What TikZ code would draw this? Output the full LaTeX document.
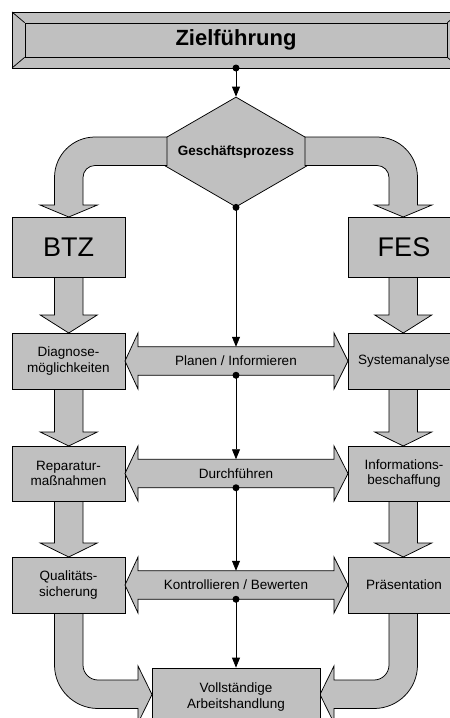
\documentclass[tikz,border=0pt]{standalone}
\usepackage{fontspec}
\setmainfont{Liberation Sans}
\usetikzlibrary{arrows.meta,shapes.geometric}
\definecolor{fillgray}{HTML}{C0C0C0}
\begin{document}
\begin{tikzpicture}[x=1pt,y=-1pt,
  lw/.style={line width=0.75pt},
  blk/.style={draw=black, fill=fillgray, line width=0.75pt, line join=miter},
  box/.style={blk, inner sep=0pt, align=center, font=\fontsize{13.5}{15.7}\selectfont},
  conn/.style={line width=0.75pt, -{Triangle[length=10pt,width=8pt]}},
  dotn/.style={circle, fill=black, inner sep=0pt, minimum size=7pt},
  lbl/.style={inner sep=0pt, align=center, font=\fontsize{13.5}{15.7}\selectfont}
]
\useasboundingbox (0,0) rectangle (450,718);
\clip (0,0) rectangle (450,718);

% ---- title (bevelled) ----
\draw[blk] (12,12) rectangle (460,68);
\node[box, minimum width=422pt, minimum height=34pt, font=\fontsize{22}{26}\selectfont\bfseries] (title) at (236,40) {Zielführung};
\draw[lw] (12,12) -- (title.north west) (460,12) -- (title.north east)
          (12,68) -- (title.south west) (460,68) -- (title.south east);
\coordinate (tdot) at (236,68);

% ---- decision ----
\node[blk, diamond, aspect=1.7, minimum width=190pt, minimum height=110pt, inner sep=0pt,
      font=\fontsize{13.5}{15}\selectfont\bfseries] (gp) at (236,152) {Geschäftsprozess};

% ---- top curved block arrows ----
\draw[blk] (167,137) -- (95,137) arc[start angle=90, end angle=180, radius=40.5pt]
  -- (54.5,205) -- (40,205) -- (68.75,217) -- (97.5,205) -- (83,205) -- (83,177.5)
  arc[start angle=180, end angle=90, radius=12pt] -- (167,165.5) -- cycle;
\draw[blk] (305,137) -- (377,137) arc[start angle=90, end angle=0, radius=40.5pt]
  -- (417.5,205) -- (432,205) -- (403.25,217) -- (374.5,205) -- (389,205) -- (389,177.5)
  arc[start angle=0, end angle=90, radius=12pt] -- (305,165.5) -- cycle;

% ---- vertical block arrows ----
\foreach \cx in {68.75,403.25}{
  \foreach \a/\b/\c in {277/315/333, 389/432/446, 501/543/557}{
    \draw[blk] (\cx-14.25,\a) -- (\cx-14.25,\b) -- (\cx-28.5,\b) -- (\cx,\c)
      -- (\cx+28.5,\b) -- (\cx+14.25,\b) -- (\cx+14.25,\a) -- cycle;
  }
}

% ---- bottom curved block arrows ----
\draw[blk] (54.5,613) -- (54.5,665) arc[start angle=180, end angle=270, radius=43.5pt]
  -- (138,708.5) -- (138,723) -- (152,694.5) -- (138,666) -- (138,680) -- (98,680)
  arc[start angle=270, end angle=180, radius=15pt] -- (83,613) -- cycle;
\draw[blk] (417.5,613) -- (417.5,665) arc[start angle=0, end angle=-90, radius=43.5pt]
  -- (334,708.5) -- (334,723) -- (320,694.5) -- (334,666) -- (334,680) -- (374,680)
  arc[start angle=-90, end angle=0, radius=15pt] -- (389,613) -- cycle;

% ---- boxes ----
\node[box, minimum width=113pt, minimum height=60pt, font=\fontsize{27}{30}\selectfont] (btz) at (68.5,247) {BTZ};
\node[box, minimum width=112pt, minimum height=60pt, font=\fontsize{27}{30}\selectfont] (fes) at (404,247) {FES};
\node[box, minimum width=113pt, minimum height=56pt] (diag) at (68.5,361) {Diagnose-\\möglichkeiten};
\node[box, minimum width=112pt, minimum height=56pt] (sys) at (404,361) {Systemanalyse};
\node[box, minimum width=113pt, minimum height=55pt] (rep) at (68.5,473.5) {Reparatur-\\maßnahmen};
\node[box, minimum width=112pt, minimum height=55pt] (inf) at (404,473.5) {Informations-\\beschaffung};
\node[box, minimum width=113pt, minimum height=56pt] (qual) at (68.5,585) {Qualitäts-\\sicherung};
\node[box, minimum width=112pt, minimum height=56pt] (pres) at (404,585) {Präsentation};
\node[box, minimum width=168pt, minimum height=58pt] (voll) at (236,697) {Vollständige\\Arbeitshandlung};

% ---- horizontal double block arrows ----
\draw[blk] (125,361) -- (138,333) -- (138,346.75) -- (334,346.75) -- (334,333) -- (348,361)
  -- (334,389) -- (334,375.25) -- (138,375.25) -- (138,389) -- cycle;
\node[lbl] (plan) at (236,361) {Planen / Informieren};
\coordinate (plant) at (236,346.75);
\coordinate (planb) at (236,375.25);

\draw[blk] (125,473.5) -- (138,446) -- (138,459.25) -- (334,459.25) -- (334,446) -- (348,473.5)
  -- (334,501) -- (334,487.75) -- (138,487.75) -- (138,501) -- cycle;
\node[lbl] (durch) at (236,473.5) {Durchführen};
\coordinate (durcht) at (236,459.25);
\coordinate (durchb) at (236,487.75);

\draw[blk] (125,585) -- (138,557) -- (138,570.75) -- (334,570.75) -- (334,557) -- (348,585)
  -- (334,613) -- (334,599.25) -- (138,599.25) -- (138,613) -- cycle;
\node[lbl] (kontr) at (236,585) {Kontrollieren / Bewerten};
\coordinate (kontrt) at (236,570.75);
\coordinate (kontrb) at (236,599.25);

% ---- central connectors ----
\draw[conn] (tdot) -- (gp.north);
\draw[conn] (gp.south) -- (plant);
\draw[conn] (planb) -- (durcht);
\draw[conn] (durchb) -- (kontrt);
\draw[conn] (kontrb) -- (voll.north);
\node[dotn] (d1) at (tdot) {};
\node[dotn] (d2) at (gp.south) {};
\node[dotn] (d3) at (planb) {};
\node[dotn] (d4) at (durchb) {};
\node[dotn] (d5) at (kontrb) {};
\end{tikzpicture}
\end{document}
